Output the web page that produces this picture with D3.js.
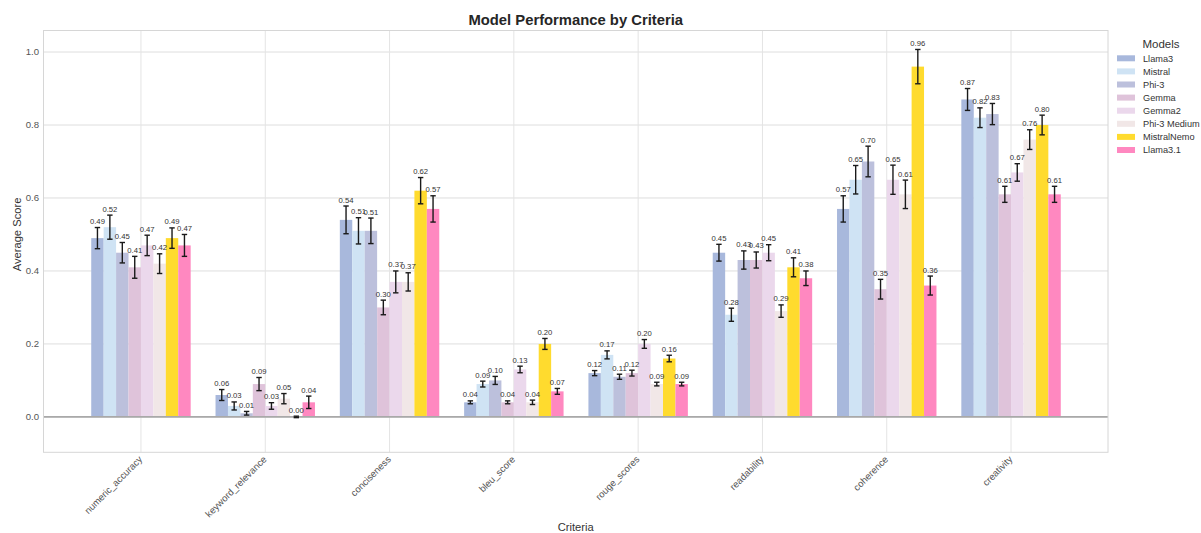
<!DOCTYPE html>
<html>
<head>
<meta charset="utf-8">
<script src="https://cdn.jsdelivr.net/npm/d3@7"></script>
<style>
  body { margin: 0; background: #fff; }
  text { font-family: "Liberation Sans", Arial, sans-serif; }
</style>
</head>
<body>
<div id="chart"></div>
<script>
// criteria on the x axis
var criteria = ["numeric_accuracy", "keyword_relevance", "conciseness", "bleu_score",
                "rouge_scores", "readability", "coherence", "creativity"];

var models = ["Llama3", "Mistral", "Phi-3", "Gemma", "Gemma2", "Phi-3 Medium", "MistralNemo", "Llama3.1"];
var colors = ["#a8b8dc", "#cfe3f4", "#bcc0dc", "#dfc3da", "#ebd8ec", "#f1e7e7", "#ffdb2e", "#ff88c0"];

// one row per model, values in criteria order
var scores = [
  [0.49, 0.06, 0.54, 0.04, 0.12, 0.45, 0.57, 0.87],
  [0.52, 0.03, 0.51, 0.09, 0.17, 0.28, 0.65, 0.82],
  [0.45, 0.01, 0.51, 0.10, 0.11, 0.43, 0.70, 0.83],
  [0.41, 0.09, 0.30, 0.04, 0.12, 0.43, 0.35, 0.61],
  [0.47, 0.03, 0.37, 0.13, 0.20, 0.45, 0.65, 0.67],
  [0.42, 0.05, 0.37, 0.04, 0.09, 0.29, 0.61, 0.76],
  [0.49, 0.00, 0.62, 0.20, 0.16, 0.41, 0.96, 0.80],
  [0.47, 0.04, 0.57, 0.07, 0.09, 0.38, 0.36, 0.61]
];

// error bar half lengths
var errors = [
  [0.029, 0.015, 0.038, 0.004, 0.007, 0.023, 0.036, 0.030],
  [0.033, 0.011, 0.036, 0.008, 0.011, 0.018, 0.039, 0.027],
  [0.028, 0.005, 0.035, 0.011, 0.007, 0.025, 0.042, 0.029],
  [0.030, 0.018, 0.020, 0.004, 0.008, 0.022, 0.027, 0.022],
  [0.028, 0.009, 0.030, 0.009, 0.012, 0.022, 0.040, 0.024],
  [0.027, 0.014, 0.025, 0.006, 0.005, 0.017, 0.039, 0.027],
  [0.028, 0.002, 0.036, 0.015, 0.009, 0.026, 0.047, 0.027],
  [0.030, 0.017, 0.036, 0.008, 0.005, 0.020, 0.026, 0.022]
];

var yTicks = [0.0, 0.2, 0.4, 0.6, 0.8, 1.0];

function drawChart() {
  var width = 1201, height = 533;
  var plotLeft = 43.5, plotRight = 1108, plotTop = 30.5, plotBottom = 452.3;
  var barW = 0.1;

  var x = d3.scaleLinear().domain([-0.784, 7.78]).range([plotLeft, plotRight]);
  var y = d3.scaleLinear().domain([-0.097, 1.059]).range([plotBottom, plotTop]);

  var svg = d3.select("#chart").append("svg")
    .attr("width", width)
    .attr("height", height);

  // grid
  svg.append("g").selectAll("line").data(yTicks).enter().append("line")
    .attr("x1", plotLeft).attr("x2", plotRight)
    .attr("y1", function(d){ return y(d); }).attr("y2", function(d){ return y(d); })
    .attr("stroke", "#dedede").attr("stroke-width", 1);

  svg.append("g").selectAll("line").data(criteria).enter().append("line")
    .attr("x1", function(d, i){ return x(i); }).attr("x2", function(d, i){ return x(i); })
    .attr("y1", plotTop).attr("y2", plotBottom)
    .attr("stroke", "#e4e4e4").attr("stroke-width", 1);

  // bars
  var flat = [];
  models.forEach(function(m, mi){
    criteria.forEach(function(c, ci){
      flat.push({model: mi, crit: ci, v: scores[mi][ci], e: errors[mi][ci]});
    });
  });

  function cx(d){ return x(d.crit - 0.4 + barW * d.model + barW / 2); }

  svg.append("g").selectAll("rect").data(flat).enter().append("rect")
    .attr("x", function(d){ return x(d.crit - 0.4 + barW * d.model); })
    .attr("width", x(barW) - x(0))
    .attr("y", function(d){ return y(d.v); })
    .attr("height", function(d){ return y(0) - y(d.v); })
    .attr("fill", function(d){ return colors[d.model]; });

  // zero line
  svg.append("line")
    .attr("x1", plotLeft).attr("x2", plotRight)
    .attr("y1", y(0)).attr("y2", y(0))
    .attr("stroke", "#a9a9a9").attr("stroke-width", 1.6);

  // error bars
  var eb = svg.append("g").attr("stroke", "#1a1a1a").attr("stroke-width", 1.4);
  eb.selectAll(".v").data(flat).enter().append("line")
    .attr("x1", cx).attr("x2", cx)
    .attr("y1", function(d){ return y(d.v - d.e); })
    .attr("y2", function(d){ return y(d.v + d.e); });
  eb.selectAll(".t").data(flat).enter().append("line")
    .attr("x1", function(d){ return cx(d) - 2.7; }).attr("x2", function(d){ return cx(d) + 2.7; })
    .attr("y1", function(d){ return y(d.v + d.e); }).attr("y2", function(d){ return y(d.v + d.e); });
  eb.selectAll(".b").data(flat).enter().append("line")
    .attr("x1", function(d){ return cx(d) - 2.7; }).attr("x2", function(d){ return cx(d) + 2.7; })
    .attr("y1", function(d){ return y(d.v - d.e); }).attr("y2", function(d){ return y(d.v - d.e); });

  // value labels
  svg.append("g").selectAll("text").data(flat).enter().append("text")
    .attr("x", cx)
    .attr("y", function(d){ return y(d.v + d.e) - 3.5; })
    .attr("text-anchor", "middle")
    .attr("font-size", 7.7)
    .attr("fill", "#333")
    .text(function(d){ return d.v.toFixed(2); });

  // frame
  svg.append("rect")
    .attr("x", plotLeft).attr("y", plotTop)
    .attr("width", plotRight - plotLeft).attr("height", plotBottom - plotTop)
    .attr("fill", "none").attr("stroke", "#d6d6d6").attr("stroke-width", 1);

  // y tick labels
  svg.append("g").selectAll("text").data(yTicks).enter().append("text")
    .attr("x", 39)
    .attr("y", function(d){ return y(d); })
    .attr("dy", "0.35em")
    .attr("text-anchor", "end")
    .attr("font-size", 9.6)
    .attr("fill", "#555")
    .text(function(d){ return d.toFixed(1); });

  // x tick labels
  svg.append("g").selectAll("text").data(criteria).enter().append("text")
    .attr("transform", function(d, i){ return "translate(" + (x(i) + 2) + "," + 460 + ") rotate(-45)"; })
    .attr("text-anchor", "end")
    .attr("font-size", 9.5)
    .attr("fill", "#555")
    .text(function(d){ return d; });

  // axis titles
  svg.append("text")
    .attr("x", (plotLeft + plotRight) / 2).attr("y", 531)
    .attr("text-anchor", "middle")
    .attr("font-size", 11.2)
    .attr("fill", "#333")
    .text("Criteria");

  svg.append("text")
    .attr("transform", "translate(21," + y(0.5) + ") rotate(-90)")
    .attr("text-anchor", "middle")
    .attr("font-size", 11.2)
    .attr("fill", "#333")
    .text("Average Score");

  svg.append("text")
    .attr("x", (plotLeft + plotRight) / 2).attr("y", 25)
    .attr("text-anchor", "middle")
    .attr("font-size", 14.8)
    .attr("font-weight", "bold")
    .attr("fill", "#262626")
    .text("Model Performance by Criteria");

  // legend
  var legend = svg.append("g");
  legend.append("text")
    .attr("x", 1161).attr("y", 48)
    .attr("text-anchor", "middle")
    .attr("font-size", 11.5)
    .attr("fill", "#333")
    .text("Models");

  var item = legend.selectAll(".item").data(models).enter().append("g")
    .attr("transform", function(d, i){ return "translate(0," + (58.3 + i * 13.1) + ")"; });
  item.append("rect")
    .attr("x", 1117).attr("y", -3)
    .attr("width", 18).attr("height", 6)
    .attr("fill", function(d, i){ return colors[i]; });
  item.append("text")
    .attr("x", 1143).attr("y", 0)
    .attr("dy", "0.35em")
    .attr("font-size", 9.2)
    .attr("fill", "#333")
    .text(function(d){ return d; });
}

drawChart();
</script>
</body>
</html>
